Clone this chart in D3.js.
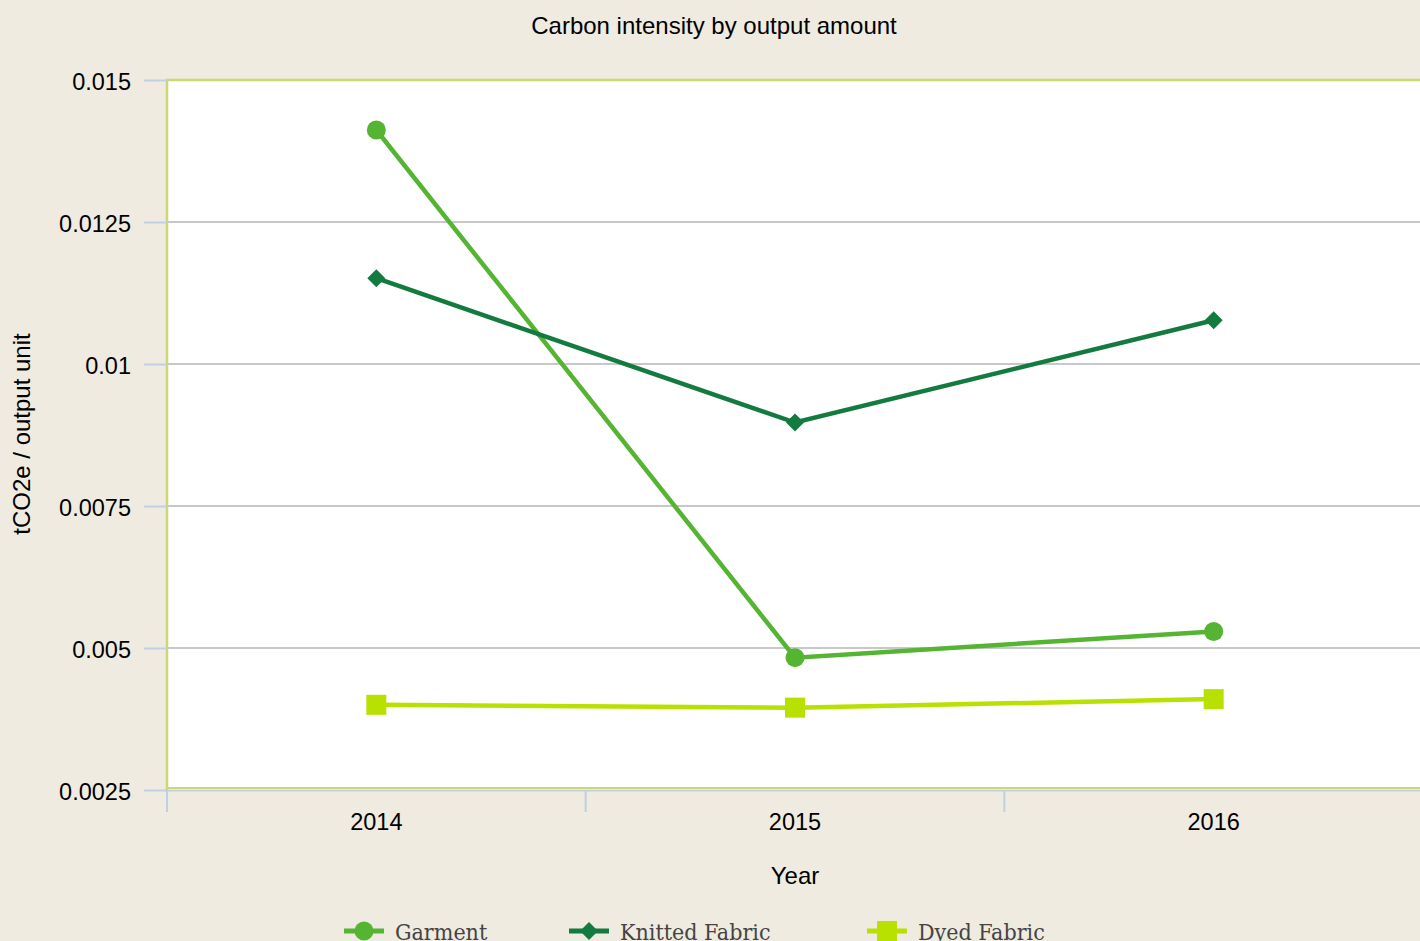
<!DOCTYPE html>
<html>
<head>
<meta charset="utf-8">
<script src="https://cdn.jsdelivr.net/npm/d3@7"></script>
<style>
  body { margin: 0; background: #efebe1; }
  svg { display: block; }
</style>
</head>
<body>
<div id="chart"></div>
<script>
var years = ["2014", "2015", "2016"];
var garment = [0.01412, 0.00483, 0.00529];
var knitted = [0.01151, 0.00897, 0.01077];
var dyed = [0.00400, 0.00395, 0.00410];
var yTicks = [0.0025, 0.005, 0.0075, 0.01, 0.0125, 0.015];
var yTickLabels = ["0.0025", "0.005", "0.0075", "0.01", "0.0125", "0.015"];

var series = [
    { name: "Garment", values: garment, color: "#55b533", shape: "circle" },
    { name: "Knitted Fabric", values: knitted, color: "#137a40", shape: "diamond" },
    { name: "Dyed Fabric", values: dyed, color: "#b8e000", shape: "square" }
];

var width = 1420, height = 941;
var margin = { top: 80, left: 167 };
var plotW = 1256, plotH = 710;

var svg = d3.select("#chart").append("svg")
    .attr("width", width)
    .attr("height", height)
    .style("font-family", "'Liberation Sans', Arial, sans-serif");

var x = d3.scaleBand()
    .domain(years)
    .range([0, plotW]);

var y = d3.scaleLinear()
    .domain([0.0025, 0.015])
    .range([plotH, 0]);

var g = svg.append("g")
    .attr("transform", "translate(" + margin.left + "," + margin.top + ")");

// plot background
g.append("rect")
    .attr("x", 0).attr("y", 0)
    .attr("width", plotW).attr("height", plotH)
    .attr("fill", "#fff");

// gridlines
g.selectAll(".grid")
    .data(yTicks.slice(1))
    .enter().append("line")
    .attr("x1", 0).attr("x2", plotW)
    .attr("y1", function(d) { return y(d); })
    .attr("y2", function(d) { return y(d); })
    .attr("stroke", "#c8c8c8")
    .attr("stroke-width", 2);

// plot border (left/top/bottom)
g.append("path")
    .attr("d", "M0," + plotH + "V0H" + plotW)
    .attr("fill", "none")
    .attr("stroke", "#ccd870")
    .attr("stroke-width", 2.5);
g.append("line")
    .attr("x1", 0).attr("x2", plotW)
    .attr("y1", plotH - 2).attr("y2", plotH - 2)
    .attr("stroke", "#ccd870")
    .attr("stroke-width", 2);

// y axis
var yAxis = d3.axisLeft(y)
    .tickValues(yTicks)
    .tickFormat(function(d, i) { return yTickLabels[i]; })
    .tickSize(23)
    .tickPadding(13);

g.append("g")
    .attr("class", "yAxis")
    .call(yAxis)
    .call(function(s) {
        s.select(".domain").remove();
        s.selectAll(".tick line").attr("stroke", "#c0d0e0").attr("stroke-width", 2);
        s.selectAll(".tick text")
            .attr("fill", "#000")
            .attr("dy", "0.42em")
            .style("font-size", "23.5px");
    });

// x axis
var xAxis = d3.axisBottom(x).tickSize(0).tickPadding(23);

var xg = g.append("g")
    .attr("class", "xAxis")
    .attr("transform", "translate(0," + plotH + ")")
    .call(xAxis);
xg.select(".domain").attr("stroke", "#c0d0e0").attr("stroke-width", 2);
xg.selectAll(".tick text").attr("fill", "#000").style("font-size", "23.5px");

xg.selectAll(".bandTick")
    .data(years.concat(["end"]))
    .enter().append("line")
    .attr("x1", function(d, i) { return i * x.step(); })
    .attr("x2", function(d, i) { return i * x.step(); })
    .attr("y1", 0).attr("y2", 22)
    .attr("stroke", "#c0d0e0")
    .attr("stroke-width", 2);

// lines and markers
var line = d3.line()
    .x(function(d, i) { return x(years[i]) + x.bandwidth() / 2; })
    .y(function(d) { return y(d); });

function drawMarker(sel, shape, color, cx, cy) {
    if (shape === "circle") {
        sel.append("circle").attr("cx", cx).attr("cy", cy).attr("r", 9.5).attr("fill", color);
    } else if (shape === "diamond") {
        sel.append("path")
            .attr("d", "M" + cx + "," + (cy - 9) + "L" + (cx + 9) + "," + cy + "L" + cx + "," + (cy + 9) + "L" + (cx - 9) + "," + cy + "Z")
            .attr("fill", color);
    } else {
        sel.append("rect").attr("x", cx - 10).attr("y", cy - 10).attr("width", 20).attr("height", 20).attr("fill", color);
    }
}

series.forEach(function(s) {
    g.append("path")
        .datum(s.values)
        .attr("fill", "none")
        .attr("stroke", s.color)
        .attr("stroke-width", 4.5)
        .attr("d", line);
    s.values.forEach(function(v, i) {
        drawMarker(g, s.shape, s.color, x(years[i]) + x.bandwidth() / 2, y(v));
    });
});

// titles
svg.append("text")
    .attr("x", 714).attr("y", 34)
    .attr("text-anchor", "middle")
    .style("font-size", "24px")
    .text("Carbon intensity by output amount");

svg.append("text")
    .attr("x", margin.left + x("2015") + x.bandwidth() / 2).attr("y", 884)
    .attr("text-anchor", "middle")
    .style("font-size", "24px")
    .text("Year");

svg.append("text")
    .attr("transform", "translate(30,434) rotate(-90)")
    .attr("text-anchor", "middle")
    .style("font-size", "24px")
    .text("tCO2e / output unit");

// legend
var legendX = [344, 569, 867];
var legend = svg.selectAll(".legend")
    .data(series)
    .enter().append("g")
    .attr("transform", function(d, i) { return "translate(" + legendX[i] + ",931)"; });

legend.append("line")
    .attr("x1", 0).attr("x2", 40)
    .attr("stroke", function(d) { return d.color; })
    .attr("stroke-width", 5);
legend.each(function(d) {
    drawMarker(d3.select(this), d.shape, d.color, 20, 0);
});
legend.append("text")
    .attr("x", 51).attr("y", 9)
    .style("font-family", "'DejaVu Serif Condensed', 'Liberation Serif', serif")
    .style("font-size", "23px")
    .attr("fill", "#444")
    .text(function(d) { return d.name; });
</script>
</body>
</html>
